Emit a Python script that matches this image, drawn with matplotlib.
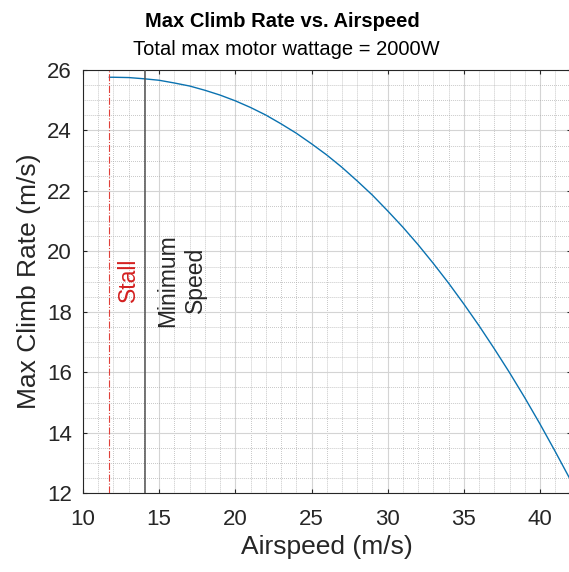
import matplotlib
matplotlib.use("Agg")
import matplotlib.pyplot as plt
from matplotlib.ticker import MultipleLocator

plt.rcParams["font.family"] = ["Liberation Sans", "DejaVu Sans"]

# values
airspeed = [11.73, 12, 13, 14, 15, 16, 17, 18, 19, 20, 21, 22, 23, 24, 25, 26,
            27, 28, 29, 30, 31, 32, 33, 34, 35, 36, 37, 38, 39, 40, 41, 42]
climb_rate = [25.76, 25.76, 25.75, 25.71, 25.66, 25.57, 25.47, 25.33, 25.17,
              24.98, 24.76, 24.51, 24.22, 23.91, 23.56, 23.19, 22.78, 22.33,
              21.86, 21.34, 20.80, 20.22, 19.60, 18.95, 18.26, 17.54, 16.78,
              15.99, 15.16, 14.29, 13.38, 12.44]
stall_speed = 11.73
min_speed = 14.06

x_ticks = [10, 15, 20, 25, 30, 35, 40]
y_ticks = [12, 14, 16, 18, 20, 22, 24, 26]

W, H = 569, 572
fig = plt.figure(figsize=(W / 100, H / 100), dpi=100)
ax = fig.add_axes([83 / W, (H - 493.3) / H, 487.5 / W, 423.3 / H])

ax.plot(airspeed, climb_rate, color="#0a72b0", lw=1.0, zorder=3)
ax.axvline(stall_speed, color="#e0403a", lw=0.8, linestyle="-.", zorder=3)
ax.axvline(min_speed, color="#505050", lw=1.1, zorder=3)

ax.text(13.0, 19.05, "Stall", color="#d42020", rotation=90, fontsize=16.5,
        ha="center", va="center")
ax.text(16.45, 19.05, "Minimum\nSpeed", color="#262626", rotation=90, fontsize=16.5,
        ha="center", va="center", multialignment="center", linespacing=1.25)

ax.set_xlim(10, 42)
ax.set_ylim(12, 26)
ax.set_xticks(x_ticks)
ax.set_yticks(y_ticks)
ax.xaxis.set_minor_locator(MultipleLocator(1))
ax.yaxis.set_minor_locator(MultipleLocator(0.5))

ax.grid(which="major", color="#d4d4d4", lw=0.8, linestyle="-", zorder=0)
ax.grid(which="minor", color="#a8a8a8", lw=0.55, linestyle=(0, (1, 1.6)), zorder=0)
ax.set_axisbelow(True)

ax.tick_params(which="major", direction="in", length=3, width=0.8, color="#262626",
               top=True, right=True, labelsize=16, labelcolor="#262626")
ax.tick_params(axis="x", pad=11)
ax.tick_params(axis="y", pad=8)
ax.tick_params(which="minor", length=0)
for sp in ax.spines.values():
    sp.set_color("#262626")
    sp.set_linewidth(0.8)

ax.set_xlabel("Airspeed (m/s)", fontsize=19, color="#262626", labelpad=4)
ax.set_ylabel("Max Climb Rate (m/s)", fontsize=19, color="#262626", labelpad=4)

fig.text(0.497, 1 - 27 / H, "Max Climb Rate vs. Airspeed", fontsize=14.5,
         fontweight="bold", ha="center", va="baseline")
fig.text(0.503, 1 - 55 / H, "Total max motor wattage = 2000W", fontsize=14.5,
         ha="center", va="baseline")

fig.savefig("out.png", dpi=100)
